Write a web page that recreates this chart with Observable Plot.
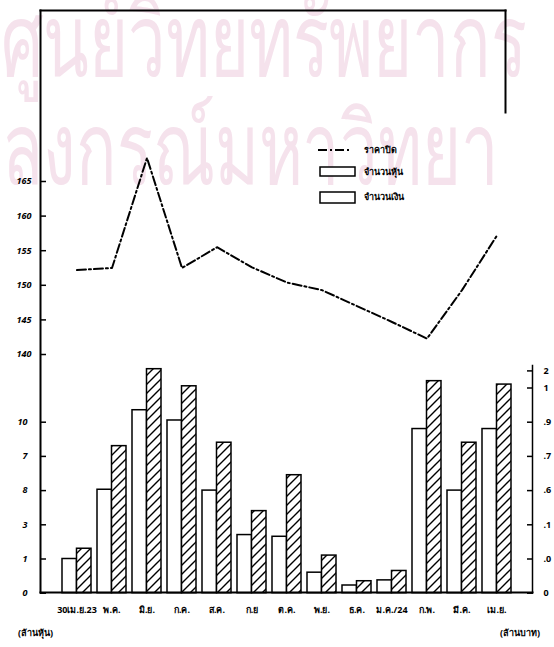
<!DOCTYPE html>
<html><head><meta charset="utf-8">
<script src="https://cdn.jsdelivr.net/npm/d3@7"></script>
<script src="https://cdn.jsdelivr.net/npm/@observablehq/plot@0.6"></script>
<style>
html,body{margin:0;padding:0;background:#fff;}
#wrap{position:relative;width:554px;height:647px;overflow:hidden;font-family:"Noto Sans","DejaVu Sans",sans-serif;}
#wrap > svg, #wrap > div {position:absolute;left:0;top:0;}
.unit{font-size:9px;font-weight:bold;}
</style></head><body><div id="wrap"></div>
<script>
// ---------- data ----------
const months = ["30เม.ย.23","พ.ค.","มิ.ย.","ก.ค.","ส.ค.","ก.ย","ต.ค.","พ.ย.","ธ.ค.","ม.ค./24","ก.พ.","มี.ค.","เม.ย."];
const closePrice = [152.2,152.5,168.4,152.5,155.5,152.6,150.4,149.3,147.0,144.7,142.3,149.3,157.2];
const shares = [2.0,6.05,10.7,10.1,6.0,3.4,3.3,1.2,0.45,0.75,9.6,6.0,9.6];   // white bars (left axis)
const baht = [0.26,0.86,1.31,1.21,0.88,0.48,0.69,0.22,0.07,0.13,1.24,0.88,1.22]; // hatched bars (right axis)
const priceTicks = [140,145,150,155,160,165];
const shareTicks = [0,2,4,6,8,10];
const shareTickLabels = ["0","1","3","8","7","10"];
const bahtTicks = [0,0.2,0.4,0.6,0.8,1.0,1.2,1.3];
const bahtTickLabels = ["0",".0",".1",".6",".7",".9","1","2"];
const legendLabels = ["ราคาปิด","จำนวนหุ้น","จำนวนเงิน"];
const unitLabels = ["(ล้านหุ้น)","(ล้านบาท)"];
const watermark = ["ศูนย์วิทยทรัพยากร","ลงกรณ์มหาวิทยา"];

const wrap = document.getElementById("wrap");
const ns = "http://www.w3.org/2000/svg";
const W = 554, H = 647;
const bahtFactor = 10;
const xScale = {type:"band", domain: months, range:[55.8,516.2], paddingInner:0.18, paddingOuter:0.09, axis:null};
const tickFont = {fontSize:9, fontWeight:"bold"};

// watermark (scan background)
const WM = document.createElementNS(ns, "svg");
WM.setAttribute("width", W); WM.setAttribute("height", H);
WM.innerHTML = `
 <g transform="translate(1,76) scale(1,1.5)"><text font-size="67" fill="#f5e2ec">${watermark[0]}</text></g>
 <g transform="translate(2,184) scale(1,1.5)"><text font-size="67" fill="#f5e2ec">${watermark[1]}</text></g>`;
WM.style.fontFamily = "'Noto Sans','DejaVu Sans',sans-serif";
wrap.appendChild(WM);

// ---------- price line plot ----------
const priceData = months.map((m,i)=>({m, v: closePrice[i]}));
const A = Plot.plot({
  width: W, height: H, marginTop:10, marginLeft:40, marginRight:49, marginBottom:55,
  style:{background:"transparent", overflow:"visible"},
  x: xScale,
  y: {domain:[140,165], range:[354,181], axis:null},
  marks:[
    Plot.frame({anchor:"top", strokeWidth:2}),
    Plot.frame({anchor:"left", strokeWidth:2}),
    Plot.axisY({anchor:"left", ticks: priceTicks, tickSize:6, dx:6, fill:"none", label:null, strokeWidth:1.5}),
    Plot.axisY({anchor:"left", ticks: priceTicks, tickSize:0, tickPadding:9, label:null, fontStyle:"italic", ...tickFont}),
    Plot.lineY(priceData, {x:"m", y:"v", stroke:"black", strokeWidth:2, strokeDasharray:"9,3,2,3"})
  ]
});
wrap.appendChild(A);

// short right frame piece at top
const C = Plot.plot({
  width: W, height: 112, marginTop:10, marginLeft:40, marginRight:49, marginBottom:0,
  style:{background:"transparent", overflow:"visible"},
  x: xScale, y:{domain:[0,1], axis:null},
  marks:[Plot.frame({anchor:"right", strokeWidth:2})]
});
wrap.appendChild(C);

// ---------- bars plot ----------
const barData = months.map((m,i)=>({m, s: shares[i], b: baht[i]}));
const bahtTickPos = bahtTicks.map(t=>t*bahtFactor);
const B = Plot.plot({
  width: W, height: H, marginTop:365, marginLeft:40, marginRight:22, marginBottom:55,
  style:{background:"transparent", overflow:"visible"},
  x: xScale,
  y: {domain:[0,10], range:[592.7,421.7], axis:null},
  marks:[
    Plot.barY(barData, {x:"m", y:"s", fill:"white", stroke:"black", strokeWidth:1.5, insetRight:14.5}),
    Plot.barY(barData, {x:"m", y: d => d.b*bahtFactor, fill:"url(#hatch)", stroke:"black", strokeWidth:1.5, insetLeft:14.5}),
    Plot.frame({anchor:"bottom", strokeWidth:2}),
    Plot.frame({anchor:"right", strokeWidth:1.5}),
    Plot.axisY({anchor:"left", ticks: shareTicks, tickSize:6, dx:6, fill:"none", label:null, strokeWidth:1.5}),
    Plot.axisY({anchor:"left", ticks: shareTicks, tickSize:0, tickPadding:13, label:null, fontStyle:"italic",
      tickFormat: d => shareTickLabels[shareTicks.indexOf(d)], ...tickFont}),
    Plot.axisY({anchor:"right", ticks: bahtTickPos, tickSize:6, dx:-6, fill:"none", label:null, strokeWidth:1.5}),
    Plot.axisY({anchor:"right", ticks: bahtTickPos, tickSize:0, tickPadding:11, label:null,
      tickFormat: d => bahtTickLabels[bahtTickPos.indexOf(d)], ...tickFont}),
    Plot.axisX({anchor:"bottom", tickSize:0, tickPadding:14, label:null, ...tickFont})
  ]
});
const defs = document.createElementNS(ns, "defs");
defs.innerHTML = `<pattern id="hatch" patternUnits="userSpaceOnUse" width="9" height="9">
  <rect width="9" height="9" fill="white"/>
  <path d="M-2,2 L2,-2 M0,9 L9,0 M7,11 L11,7" stroke="black" stroke-width="1.4"/></pattern>`;
B.insertBefore(defs, B.firstChild);
wrap.appendChild(B);

// ---------- legend ----------
const L = document.createElementNS(ns, "svg");
L.setAttribute("width", W); L.setAttribute("height", H);
L.innerHTML = `
 <line x1="318" x2="352" y1="150" y2="150" stroke="black" stroke-width="2" stroke-dasharray="9,3,2,3"/>
 <text x="364" y="153" font-size="9" font-weight="bold">${legendLabels[0]}</text>
 <rect x="320" y="167" width="35" height="9" fill="white" stroke="black" stroke-width="1.5"/>
 <text x="364" y="175" font-size="9" font-weight="bold">${legendLabels[1]}</text>
 <rect x="320" y="192" width="35" height="11" fill="white" stroke="black" stroke-width="1.5"/>
 <text x="364" y="200" font-size="9" font-weight="bold">${legendLabels[2]}</text>`;
L.style.fontFamily = "'Noto Sans','DejaVu Sans',sans-serif";
wrap.appendChild(L);

// unit labels
unitLabels.forEach((t,i)=>{
  const d = document.createElement("div");
  d.className = "unit";
  d.textContent = t;
  d.style.left = (i===0 ? 18 : 500) + "px";
  d.style.top = "626px";
  wrap.appendChild(d);
});
</script></body></html>
